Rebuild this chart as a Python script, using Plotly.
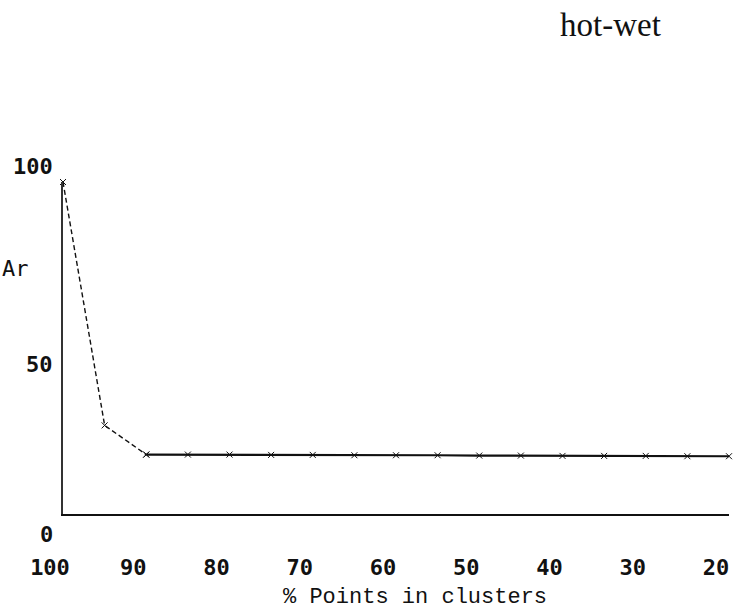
import plotly.graph_objects as go

# Ar against the share of points kept in clusters (hot-wet case)
pct_points = [100, 95, 90, 85, 80, 75, 70, 65, 60, 55, 50, 45, 40, 35, 30, 25, 20]
ar_values = [100, 26.7, 17.9, 17.9, 17.9, 17.8, 17.8, 17.7, 17.7, 17.7,
             17.6, 17.6, 17.5, 17.5, 17.5, 17.4, 17.4]
x_ticks = [100, 90, 80, 70, 60, 50, 40, 30, 20]
y_ticks = [100, 50, 0]
title_text = "hot-wet"
x_title = "% Points in clusters"
y_title = "Ar"

W, H = 736, 611


def fx(px):
    return px / W


def fy(py):
    return 1 - py / H


x_domain = [fx(63), fx(729)]
y_domain = [fy(514), fy(182)]

mono = "DejaVu Sans Mono"
ink = "#111111"
cross = dict(symbol="x-thin", size=6, color=ink, line=dict(color=ink, width=1.0))

fig = go.Figure()
steep = 3  # the initial drop (100 -> 90) is plotted dashed
fig.add_trace(go.Scatter(
    x=pct_points[:steep], y=ar_values[:steep], mode="lines+markers",
    line=dict(color=ink, width=1.4, dash="5px,3px"), marker=cross,
    cliponaxis=False, showlegend=False, hoverinfo="x+y"))
fig.add_trace(go.Scatter(
    x=pct_points[steep - 1:], y=ar_values[steep - 1:], mode="lines+markers",
    line=dict(color=ink, width=2.2), marker=cross,
    cliponaxis=False, showlegend=False, hoverinfo="x+y"))

# vertical nudges of the Ar tick labels, in pixels
y_label_nudge = [15.5, -16.5, -20.5]
annotations = []
for v, dy in zip(y_ticks, y_label_nudge):
    annotations.append(dict(
        text=str(v), xref="paper", yref="y", x=x_domain[0], y=v,
        xanchor="right", yanchor="middle", xshift=-8, yshift=dy, showarrow=False,
        font=dict(family=mono, size=22, color=ink, weight="bold")))
annotations.append(dict(
    text=y_title, xref="paper", yref="paper", x=0, y=fy(268),
    xanchor="left", yanchor="middle", showarrow=False,
    font=dict(family=mono, size=22, color=ink)))
annotations.append(dict(
    text=x_title, xref="paper", yref="paper", x=fx(415), y=fy(597),
    xanchor="center", yanchor="middle", showarrow=False,
    font=dict(family="Liberation Mono", size=22, color=ink)))
annotations.append(dict(
    text=title_text, xref="paper", yref="paper", x=fx(610), y=fy(25),
    xanchor="center", yanchor="middle", showarrow=False,
    font=dict(family="Liberation Serif", size=33, color=ink)))

fig.update_layout(
    width=W, height=H, margin=dict(l=0, r=0, t=0, b=0, autoexpand=False),
    paper_bgcolor="white", plot_bgcolor="white", showlegend=False,
    xaxis=dict(domain=x_domain, range=[100, 20], tickvals=x_ticks,
               ticktext=[str(v) for v in x_ticks], showgrid=False, zeroline=False,
               showline=True, linecolor=ink, linewidth=2, ticks="",
               tickfont=dict(family=mono, size=22, color=ink, weight="bold"),
               ticklabelshift=13, ticklabelstandoff=33, automargin=False),
    yaxis=dict(domain=y_domain, range=[0, 100], showticklabels=False,
               showgrid=False, zeroline=False, showline=True,
               linecolor="#333333", linewidth=1.5, ticks="", automargin=False),
    annotations=annotations,
)

fig.write_html("out.html")
